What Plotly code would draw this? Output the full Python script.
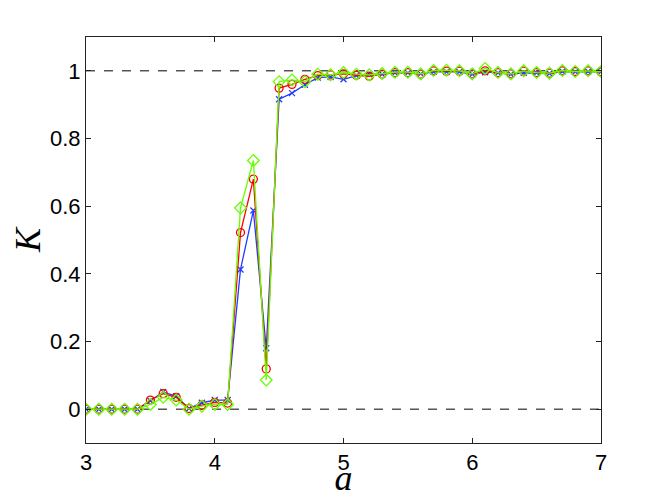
import plotly.graph_objects as go

# ── Data ─────────────────────────────────────────────────────────────────────
a_values = [3.0, 3.1, 3.2, 3.3, 3.4, 3.5, 3.6, 3.7, 3.8, 3.9,
            4.0, 4.1, 4.2, 4.3, 4.4, 4.5, 4.6, 4.7, 4.8, 4.9,
            5.0, 5.1, 5.2, 5.3, 5.4, 5.5, 5.6, 5.7, 5.8, 5.9,
            6.0, 6.1, 6.2, 6.3, 6.4, 6.5, 6.6, 6.7, 6.8, 6.9, 7.0]

k_blue = [0.0, 0.0, 0.0, 0.0, 0.0, 0.025, 0.051, 0.038, 0.002, 0.019,
          0.027, 0.027, 0.413, 0.587, 0.180, 0.916, 0.934, 0.959, 0.980, 0.982,
          0.975, 0.986, 0.990, 0.990, 0.994, 0.994, 0.991, 0.997, 0.997, 0.997,
          0.990, 0.996, 0.994, 0.990, 0.994, 0.994, 0.992, 0.998, 0.997, 0.998, 0.997]

k_red = [0.0, 0.0, 0.0, 0.0, 0.0, 0.027, 0.046, 0.035, 0.002, 0.012,
         0.020, 0.018, 0.522, 0.680, 0.119, 0.949, 0.960, 0.975, 0.986, 0.988,
         0.991, 0.987, 0.984, 0.990, 0.995, 0.995, 0.990, 1.000, 0.999, 0.999,
         0.991, 1.000, 0.995, 0.991, 0.999, 0.995, 0.993, 1.000, 0.998, 1.000, 0.997]

k_green = [0.0, 0.0, 0.0, 0.0, 0.0, 0.014, 0.035, 0.027, 0.0, 0.009,
           0.014, 0.014, 0.595, 0.735, 0.086, 0.968, 0.973, 0.968, 0.990, 0.988,
           0.995, 0.990, 0.988, 0.992, 0.996, 0.996, 0.991, 1.001, 1.002, 1.000,
           0.991, 1.007, 0.995, 0.991, 1.000, 0.995, 0.993, 1.001, 0.998, 1.000, 0.998]

ref_levels = [0, 1]

x_ticks = [3, 4, 5, 6, 7]
y_ticks = [0, 0.2, 0.4, 0.6, 0.8, 1]

# ── Styles ───────────────────────────────────────────────────────────────────
BLUE = "#1f3dff"
RED = "#ff0000"
GREEN = "#66ff00"

fig = go.Figure()

fig.add_trace(go.Scatter(
    x=a_values, y=k_blue, mode="lines+markers",
    line=dict(color=BLUE, width=1.3),
    marker=dict(symbol="x-thin-open", size=6, color=BLUE, line=dict(color=BLUE, width=1.3)),
))
fig.add_trace(go.Scatter(
    x=a_values, y=k_red, mode="lines+markers",
    line=dict(color=RED, width=1.3),
    marker=dict(symbol="circle-open", size=8, color=RED, line=dict(color=RED, width=1.3)),
))
fig.add_trace(go.Scatter(
    x=a_values, y=k_green, mode="lines+markers",
    line=dict(color=GREEN, width=1.3),
    marker=dict(symbol="diamond-open", size=9, color=GREEN, line=dict(color=GREEN, width=1.3)),
))

for lvl in ref_levels:
    fig.add_hline(y=lvl, line=dict(color="black", width=1, dash="dash"), layer="below")

axis_common = dict(
    showgrid=False, zeroline=False, automargin=False,
    showline=True, linecolor="#222", linewidth=1, mirror="ticks",
    ticks="inside", ticklen=5, tickcolor="#222", tickwidth=1,
    tickfont=dict(family="Liberation Sans, Arial, sans-serif", size=22, color="black"),
)

fig.update_xaxes(
    range=[3, 7], tickvals=x_ticks, ticktext=[str(v) for v in x_ticks],
    title=dict(text="<i>a</i>", font=dict(family="Liberation Serif, serif", size=36, color="black"),
               standoff=0),
    **axis_common,
)
fig.update_yaxes(
    range=[-0.1, 1.1], tickvals=y_ticks, ticktext=["0", "0.2", "0.4", "0.6", "0.8", "1"],
    title=dict(text="<i>K</i>", font=dict(family="Liberation Serif, serif", size=36, color="black"),
               standoff=14),
    **axis_common,
)

# the page body adds an 8px offset, so the figure is 8px smaller than the window
fig.update_layout(
    width=656, height=490,
    paper_bgcolor="white", plot_bgcolor="white",
    showlegend=False,
    margin=dict(l=78, r=63, t=29, b=55),
)

fig.write_html("out.html")
